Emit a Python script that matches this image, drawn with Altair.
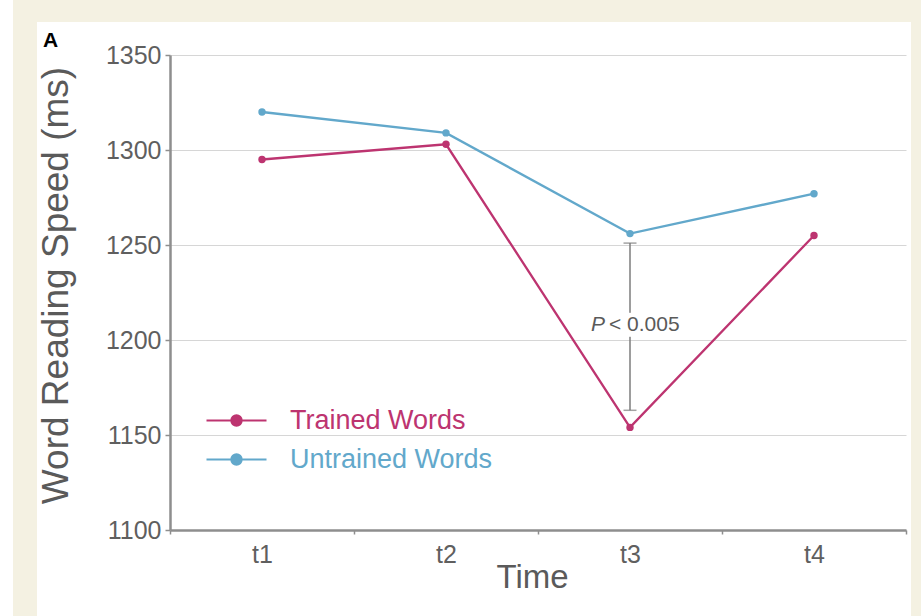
import altair as alt
import pandas as pd

# Reading speed per session for the two word sets
times = ["t1", "t2", "t3", "t4"]
trained = [1295, 1303, 1154, 1255]
untrained = [1320, 1309, 1256, 1277]
series_names = ["Trained Words", "Untrained Words"]
series_colors = ["#bd3470", "#62a8cb"]

# Significance bracket at t3
bracket_time = "t3"
bracket_low = 1163
bracket_high = 1251
p_label_value = 1208
p_prefix = "P"
p_rest = "< 0.005"

y_ticks = [1100, 1150, 1200, 1250, 1300, 1350]
panel_letter = "A"

rows = []
for t, a, b in zip(times, trained, untrained):
    rows.append({"time": t, "speed": a, "group": series_names[0]})
    rows.append({"time": t, "speed": b, "group": series_names[1]})
df = pd.DataFrame(rows)

bracket = pd.DataFrame({"time": [bracket_time], "low": [bracket_low],
                        "high": [bracket_high], "mid": [p_label_value]})

FONT = "Liberation Sans"
GREY = "#5f5f5f"
AXIS_GREY = "#8e8e8e"
BEIGE = "#f4f1e2"

x_enc = alt.X("time:N", sort=times, title="Time",
              scale=alt.Scale(paddingInner=0, paddingOuter=0),
              axis=alt.Axis(labelAngle=0, labelFontSize=25, labelColor=GREY,
                            labelPadding=8, tickBand="extent", tickSize=4,
                            tickColor=AXIS_GREY, tickWidth=1.5,
                            domainColor=AXIS_GREY, domainWidth=2.5,
                            titleFontSize=33, titleFontWeight="normal",
                            titleColor="#5a5a5a", titleBaseline="alphabetic",
                            titleY=57, titleX=362, grid=False))

y_scale = alt.Scale(domain=[1100, 1350], nice=False, zero=False)
y_enc = alt.Y("speed:Q", scale=y_scale, title="Word Reading Speed (ms)",
              axis=alt.Axis(values=y_ticks, format="d", labelFontSize=25,
                            labelColor=GREY, labelPadding=4, tickSize=5,
                            tickColor=AXIS_GREY, tickWidth=1.5,
                            domainColor=AXIS_GREY, domainWidth=2.5, grid=True,
                            gridColor="#d6d6d6", gridWidth=1,
                            titleFontSize=37, titleFontWeight="normal",
                            titleColor="#5a5a5a", titleBaseline="alphabetic",
                            titleAngle=270, titleX=-103, titleY=230))

color_enc = alt.Color(
    "group:N",
    scale=alt.Scale(domain=series_names, range=series_colors),
    legend=alt.Legend(
        title=None, orient="none", legendX=35, legendY=347,
        symbolType="M-1,0H1M-0.17,0A0.17,0.17,0,1,1,0.17,0A0.17,0.17,0,1,1,-0.17,0Z",
        symbolSize=3600, symbolStrokeWidth=2.2, clipHeight=37, labelLimit=400,
        labelOffset=22, labelFontSize=27, labelFont=FONT, padding=0,
        labelColor=alt.ExprRef(expr="scale('color', datum.value)")))

# Beige page frame around the white card (left, top and right strips)
frame = pd.DataFrame({
    "x0": [-157, -157, 741], "x1": [-133, 751, 751],
    "y0": [-55, -55, -55], "y1": [561, -33, 561]})
frame_marks = alt.Chart(frame).mark_rect(color=BEIGE).encode(
    x=alt.X("x0:Q", scale=None), x2="x1:Q",
    y=alt.Y("y0:Q", scale=None), y2="y1:Q")

# Panel letter in the card's top-left corner
letter = alt.Chart(pd.DataFrame({"t": [panel_letter]})).mark_text(
    font=FONT, fontSize=21, fontWeight="bold", color="black",
    align="left", baseline="alphabetic").encode(
    text="t:N", x=alt.value(-127), y=alt.value(-8))

base = alt.Chart(df).encode(x=x_enc, y=y_enc, color=color_enc)
lines = base.mark_line(strokeWidth=2.3)
points = base.mark_point(filled=True, size=55, opacity=1)

bx = alt.X("time:N", sort=times)
rule = alt.Chart(bracket).mark_rule(color="#7c7c7c", strokeWidth=1.5).encode(
    x=bx, y="low:Q", y2="high:Q")
cap_lo = alt.Chart(bracket).mark_tick(color="#7c7c7c", size=13, thickness=1.5,
                                      orient="horizontal").encode(x=bx, y="low:Q")
cap_hi = alt.Chart(bracket).mark_tick(color="#7c7c7c", size=13, thickness=1.5,
                                      orient="horizontal").encode(x=bx, y="high:Q")
mask = alt.Chart(bracket).mark_tick(color="white", size=14, thickness=24,
                                    orient="horizontal", opacity=1).encode(
    x=bx, y="mid:Q")
p_italic = alt.Chart(bracket).mark_text(
    text=p_prefix, font=FONT, fontSize=21, fontStyle="italic", color="#5a5a5a",
    align="right", baseline="middle", dx=-25).encode(x=bx, y="mid:Q")
p_text = alt.Chart(bracket).mark_text(
    text=p_rest, font=FONT, fontSize=21, color="#5a5a5a",
    align="left", baseline="middle", dx=-21).encode(x=bx, y="mid:Q")

chart = alt.layer(
    frame_marks, letter, lines, points, rule, cap_lo, cap_hi, mask,
    p_italic, p_text
).properties(
    width=736, height=475,
    autosize=alt.AutoSizeParams(type="none"),
    padding={"left": 170, "top": 55, "right": 15, "bottom": 86},
    background="white",
).configure(font=FONT).configure_view(stroke=None)

chart.save("out.html", embed_options={"renderer": "svg", "actions": False})
